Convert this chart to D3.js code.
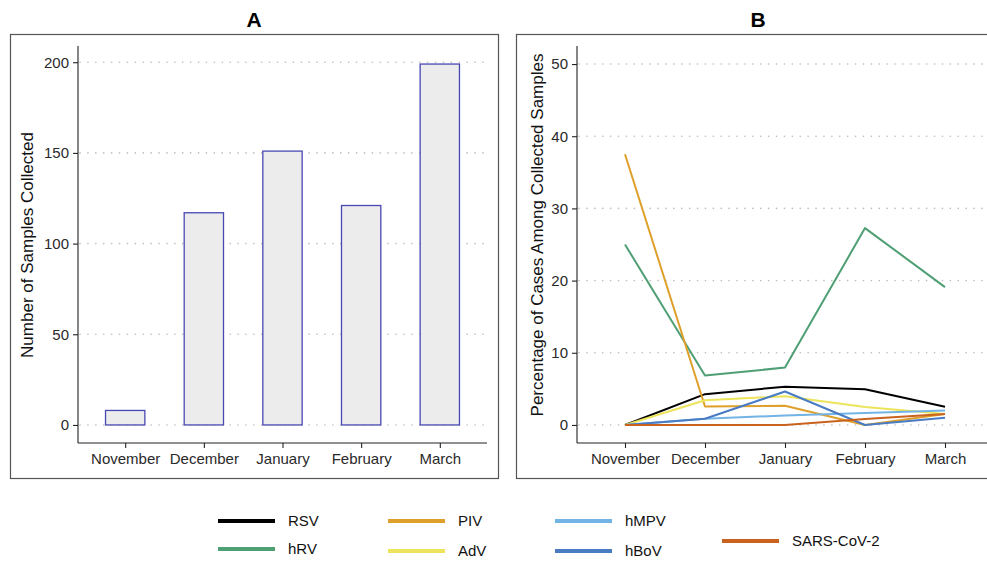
<!DOCTYPE html>
<html>
<head>
<meta charset="utf-8">
<script src="https://cdn.jsdelivr.net/npm/d3@7"></script>
<style>
  html, body { margin: 0; padding: 0; background: #fff; }
  svg { display: block; font-family: "Liberation Sans", Arial, Helvetica, sans-serif; }
</style>
</head>
<body>
<svg id="chart" width="987" height="572"></svg>
<script>
// ---- data ----
const months = ["November", "December", "January", "February", "March"];
const samplesCollected = [8, 117, 151, 121, 199];
const yTicksA = [0, 50, 100, 150, 200];
const yTicksB = [0, 10, 20, 30, 40, 50];

const virusNames = ["RSV", "hRV", "PIV", "AdV", "hMPV", "hBoV", "SARS-CoV-2"];
const virusColors = ["#000000", "#4f9f74", "#dea02a", "#ece45a", "#72b4e6", "#4a7cc4", "#c9621e"];
const RSV  = [0, 4.27, 5.30, 4.96, 2.51];
const hRV  = [25.0, 6.84, 7.95, 27.27, 19.10];
const PIV  = [37.5, 2.56, 2.65, 0, 1.51];
const AdV  = [0, 3.42, 3.97, 2.48, 1.51];
const hMPV = [0, 0.85, 1.32, 1.65, 2.01];
const hBoV = [0, 0.85, 4.64, 0, 1.01];
const SARS = [0, 0, 0, 0.83, 1.51];
const virusValues = [RSV, hRV, PIV, AdV, hMPV, hBoV, SARS];

const svg = d3.select("#chart");
const tickColor = "#2a2a2a";
const font = 15;

// ---- plot boxes ----
svg.append("rect").attr("x", 10.5).attr("y", 34.5).attr("width", 488).attr("height", 444)
  .attr("fill", "none").attr("stroke", "#555").attr("stroke-width", 1.2);
svg.append("rect").attr("x", 516.5).attr("y", 34.5).attr("width", 487).attr("height", 444)
  .attr("fill", "none").attr("stroke", "#555").attr("stroke-width", 1.2);

// titles
svg.append("text").attr("x", 254).attr("y", 27).attr("text-anchor", "middle")
  .attr("font-size", 21).attr("font-weight", "bold").text("A");
svg.append("text").attr("x", 758).attr("y", 27).attr("text-anchor", "middle")
  .attr("font-size", 21).attr("font-weight", "bold").text("B");

// ---- panel A ----
const xA = d3.scalePoint().domain(months).range([78, 487]).padding(0.6);
const yA = d3.scaleLinear().domain([-9.95, 208.95]).range([443, 46]);
const gA = svg.append("g");

gA.selectAll("line.grid").data(yTicksA).join("line")
  .attr("x1", 80).attr("x2", 487)
  .attr("y1", d => yA(d)).attr("y2", d => yA(d))
  .attr("stroke", "#bdbdbd").attr("stroke-width", 1.6).attr("stroke-dasharray", "0.1,7.8")
  .attr("stroke-linecap", "round");

const bw = xA.step() * 0.5;
gA.selectAll("rect.bar").data(samplesCollected).join("rect")
  .attr("x", (d, i) => xA(months[i]) - bw / 2)
  .attr("y", d => yA(d))
  .attr("width", bw)
  .attr("height", d => yA(0) - yA(d))
  .attr("fill", "#ececec").attr("stroke", "#4848b4").attr("stroke-width", 1.3);

const axAy = gA.append("g").attr("transform", "translate(78,0)")
  .call(d3.axisLeft(yA).tickValues(yTicksA).tickSize(5).tickPadding(4));
const axAx = gA.append("g").attr("transform", "translate(0,443)")
  .call(d3.axisBottom(xA).tickSize(5).tickPadding(5));
[axAy, axAx].forEach(a => {
  a.select(".domain").attr("stroke", "#222").attr("stroke-width", 1.1);
  a.selectAll(".tick line").attr("stroke", "#222").attr("stroke-width", 1.1);
  a.selectAll(".tick text").attr("font-size", font).attr("fill", tickColor)
    .attr("font-family", "Liberation Sans, Arial, sans-serif");
});
axAy.select(".domain").attr("d", "M0,46V443");
axAx.select(".domain").attr("d", "M78,0H487");

svg.append("text").attr("transform", "translate(33,245) rotate(-90)")
  .attr("text-anchor", "middle").attr("font-size", 17).attr("fill", "#111")
  .text("Number of Samples Collected");

// ---- panel B ----
const xB = d3.scalePoint().domain(months).range([577, 993]).padding(0.6);
const yB = d3.scaleLinear().domain([-2.5, 52.5]).range([443, 46]);
const gB = svg.append("g");

gB.selectAll("line.grid").data(yTicksB).join("line")
  .attr("x1", 579).attr("x2", 993)
  .attr("y1", d => yB(d)).attr("y2", d => yB(d))
  .attr("stroke", "#bdbdbd").attr("stroke-width", 1.6).attr("stroke-dasharray", "0.1,7.8")
  .attr("stroke-linecap", "round");

const line = d3.line().x((d, i) => xB(months[i])).y(d => yB(d));
gB.selectAll("path.series").data(virusValues).join("path")
  .attr("d", d => line(d))
  .attr("fill", "none")
  .attr("stroke", (d, i) => virusColors[i])
  .attr("stroke-width", 2)
  .attr("stroke-linejoin", "round");

const axBy = gB.append("g").attr("transform", "translate(577,0)")
  .call(d3.axisLeft(yB).tickValues(yTicksB).tickSize(5).tickPadding(4));
const axBx = gB.append("g").attr("transform", "translate(0,443)")
  .call(d3.axisBottom(xB).tickSize(5).tickPadding(5));
[axBy, axBx].forEach(a => {
  a.select(".domain").attr("stroke", "#222").attr("stroke-width", 1.1);
  a.selectAll(".tick line").attr("stroke", "#222").attr("stroke-width", 1.1);
  a.selectAll(".tick text").attr("font-size", font).attr("fill", tickColor)
    .attr("font-family", "Liberation Sans, Arial, sans-serif");
});
axBy.select(".domain").attr("d", "M0,46V443");
axBx.select(".domain").attr("d", "M577,0H993");

svg.append("text").attr("transform", "translate(543,235) rotate(-90)")
  .attr("text-anchor", "middle").attr("font-size", 17).attr("fill", "#111")
  .text("Percentage of Cases Among Collected Samples");

// ---- legend ----
const legendPos = [
  [218, 521], [218, 549], [388, 521], [388, 551], [555, 521], [555, 551], [722, 541]
];
const lg = svg.append("g");
virusNames.forEach((name, i) => {
  const [lx, ly] = legendPos[i];
  lg.append("line").attr("x1", lx).attr("x2", lx + 57).attr("y1", ly).attr("y2", ly)
    .attr("stroke", virusColors[i]).attr("stroke-width", 4);
  lg.append("text").attr("x", lx + 70).attr("y", ly + 5).attr("font-size", font)
    .attr("fill", "#111").text(name);
});
</script>
</body>
</html>
